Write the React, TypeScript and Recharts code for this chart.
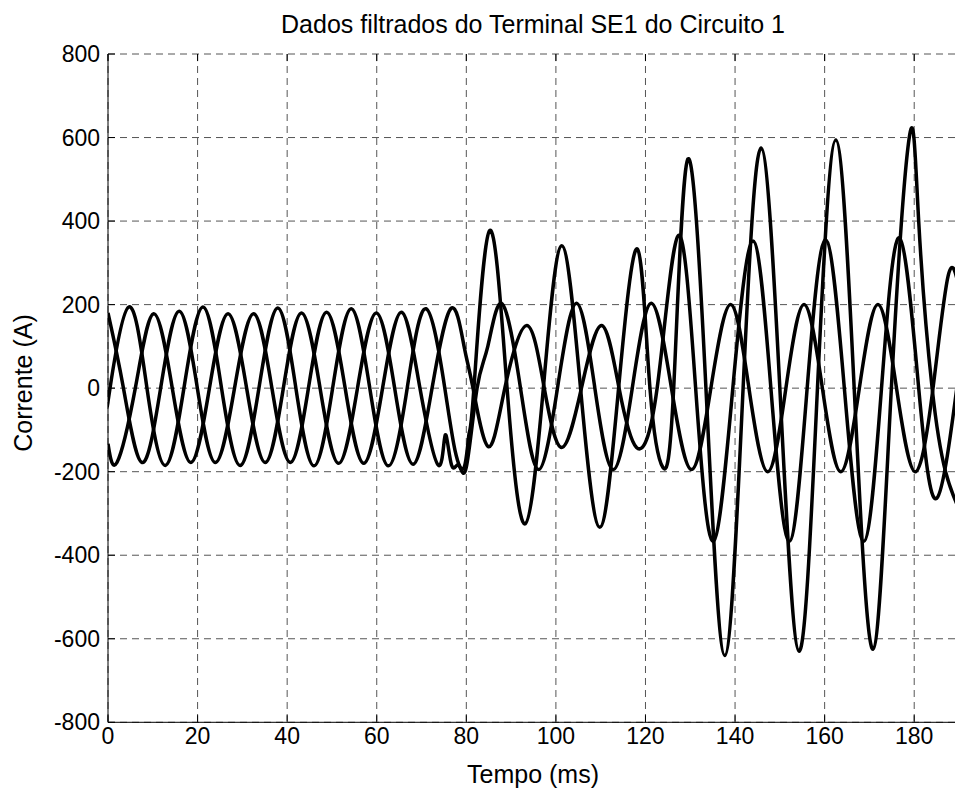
import { LineChart, Line, XAxis, YAxis, CartesianGrid, ReferenceLine } from 'recharts';

const timeTicks = [0, 20, 40, 60, 80, 100, 120, 140, 160, 180];
const currentTicks = [-800, -600, -400, -200, 0, 200, 400, 600, 800];

// filtered phase currents: [time (ms), current (A)]
const phaseA: [number, number][] = [
  [0, -33], [0.45, 0], [4.6, 194], [8.7, 0], [12.8, -185], [16.95, 0], [21.2, 194],
  [25.35, 0], [29.5, -185], [33.7, 0], [37.9, 192], [41.95, 0], [46.0, -186], [50.15, 0],
  [54.3, 190], [58.45, 0], [62.6, -186], [66.8, 0], [71.0, 190], [75.2, 0], [77.5, -150],
  [79.5, -190], [80.6, -110], [81.7, 0], [85.2, 377], [89.1, 0], [93.1, -325], [97.2, 0],
  [101.3, 341], [105.5, 0], [109.8, -333], [114.0, 0], [118.2, 333], [121.0, 0],
  [123.9, -190], [126.3, 0], [129.4, 547], [133.5, 0], [137.7, -640], [141.8, 0],
  [145.8, 575], [150.0, 0], [154.3, -630], [158.4, 0], [162.5, 594], [166.6, 0],
  [170.8, -625], [174.9, 0], [179.0, 607], [181.0, 400], [184.0, 0], [187.0, -200],
  [190, -290],
];

const phaseB: [number, number][] = [
  [0, -133], [2.0, -178], [6.1, 0], [10.2, 178], [14.35, 0], [18.5, -178], [22.65, 0],
  [26.8, 178], [30.95, 0], [35.1, -178], [39.15, 0], [43.2, 180], [47.35, 0], [51.5, -180],
  [55.7, 0], [59.9, 180], [64.0, 0], [68.1, -182], [72.35, 0], [76.6, 191], [79.5, 100],
  [81.5, 0], [84.9, -140], [88.6, 0], [93.5, 150], [97.4, 0], [101.3, -142], [105.7, 0],
  [110.2, 150], [114.1, 0], [118.0, -142], [122.6, 0], [127.3, 365], [131.2, 0],
  [135.1, -367], [139.5, 0], [144.0, 352], [148.0, 0], [152.1, -367], [156.1, 0],
  [160.2, 355], [164.4, 0], [168.7, -367], [172.7, 0], [176.7, 360], [181.0, 0],
  [185.0, -264], [190, 40],
];

const phaseC: [number, number][] = [
  [0, 180], [3.45, 0], [7.6, -178], [11.75, 0], [15.9, 184], [19.95, 0], [24.0, -178],
  [28.25, 0], [32.5, 178], [36.6, 0], [40.7, -178], [44.75, 0], [48.8, 182], [52.95, 0],
  [57.1, -180], [61.3, 0], [65.5, 182], [69.65, 0], [73.8, -185], [75.3, -112], [76.7, -184],
  [78.3, -184], [80.0, -189], [82.4, 0], [84.8, 100], [88.0, 202], [92.1, 0], [96.1, -195],
  [100.35, 0], [104.6, 203], [108.7, 0], [112.8, -195], [117.05, 0], [121.3, 203],
  [125.8, 0], [130.3, -195], [134.6, 0], [139.0, 200], [143.1, 0], [147.3, -200],
  [151.35, 0], [155.4, 200], [159.5, 0], [163.6, -200], [167.75, 0], [171.9, 200],
  [176.05, 0], [180.2, -200], [184.2, 0], [187.6, 270], [190, 240],
];

const toRows = (pts: [number, number][]) => pts.map(([t, v]) => ({ t, v }));

const FONT = "'Liberation Sans', Arial, Helvetica, sans-serif";
const W = 955;
const H = 791;

export default function App() {
  const series = [phaseA, phaseB, phaseC];
  return (
    <div style={{ position: 'fixed', left: 0, top: 0, width: W, height: H, overflow: 'hidden', background: '#fff' }}>
      <LineChart
        width={1010}
        height={H}
        margin={{ top: 54, right: 51, left: 0, bottom: 0 }}
      >
        <CartesianGrid stroke="#555" strokeDasharray="7 5" strokeWidth={1} />
        <XAxis
          dataKey="t"
          type="number"
          domain={[0, 190]}
          ticks={timeTicks}
          allowDataOverflow
          height={68.7}
          axisLine={{ stroke: '#000', strokeWidth: 1 }}
          tickLine={false}
          tickSize={0}
          tickMargin={5}
          tick={{ fontSize: 23, fill: '#000', fontFamily: FONT }}
        />
        <XAxis
          xAxisId="top"
          orientation="top"
          type="number"
          domain={[0, 190]}
          height={0}
          tick={false}
          tickLine={false}
          axisLine={{ stroke: '#000', strokeWidth: 1 }}
        />
        <YAxis
          type="number"
          domain={[-800, 800]}
          ticks={currentTicks}
          width={108}
          axisLine={{ stroke: '#000', strokeWidth: 1 }}
          tickLine={false}
          tickSize={0}
          tickMargin={8}
          tick={{ fontSize: 23, fill: '#000', fontFamily: FONT }}
        />
        {timeTicks.map((t) => (
          <ReferenceLine key={`xb${t}`} segment={[{ x: t, y: -800 }, { x: t, y: -783 }]} stroke="#000" />
        ))}
        {timeTicks.map((t) => (
          <ReferenceLine key={`xt${t}`} segment={[{ x: t, y: 800 }, { x: t, y: 783 }]} stroke="#000" />
        ))}
        {currentTicks.map((v) => (
          <ReferenceLine key={`yl${v}`} segment={[{ x: 0, y: v }, { x: 1.56, y: v }]} stroke="#000" />
        ))}
        {series.map((pts, i) => (
          <Line
            key={i}
            data={toRows(pts)}
            dataKey="v"
            type="natural"
            stroke="#000"
            strokeWidth={3.5}
            dot={false}
            activeDot={false}
            isAnimationActive={false}
          />
        ))}
      </LineChart>
      <svg width={W} height={H} style={{ position: 'absolute', left: 0, top: 0, pointerEvents: 'none' }}>
        <text x={533} y={33} textAnchor="middle" fontSize={25} fontFamily={FONT} fill="#000">
          Dados filtrados do Terminal SE1 do Circuito 1
        </text>
        <text x={533} y={783} textAnchor="middle" fontSize={25} fontFamily={FONT} fill="#000">
          Tempo (ms)
        </text>
        <text
          x={0}
          y={0}
          transform="translate(32, 383) rotate(-90)"
          textAnchor="middle"
          fontSize={25}
          fontFamily={FONT}
          fill="#000"
        >
          Corrente (A)
        </text>
      </svg>
    </div>
  );
}
